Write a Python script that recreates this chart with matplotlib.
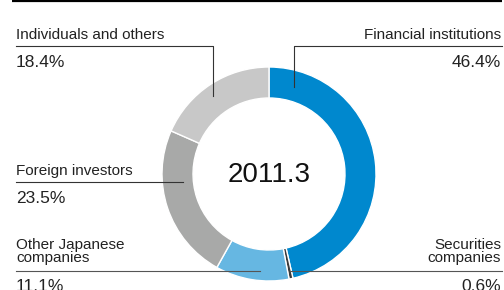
import matplotlib.pyplot as plt

# Shareholder composition, clockwise from 12 o'clock
labels = ['Financial institutions', 'Securities\ncompanies', 'Other Japanese\ncompanies',
          'Foreign investors', 'Individuals and others']
shares = [46.4, 0.6, 11.1, 23.5, 18.4]
colors = ['#0088ce', '#3a3a3a', '#66b7e2', '#a8a9a8', '#c8c8c8']
year_label = '2011.3'

W, H = 504, 290
plt.rcParams['font.family'] = ['Liberation Sans', 'DejaVu Sans']

fig = plt.figure(figsize=(W / 100, H / 100), dpi=100)
ax = fig.add_axes([0, 0, 1, 1])


def Y(y):
    # pixel row (from top) -> data y
    return H - y


cx, cy, r = 269, 174, 107
ax.pie(shares, colors=colors, startangle=90, counterclock=False,
       radius=r, center=(cx, Y(cy)), frame=True,
       wedgeprops=dict(width=31, edgecolor='white', linewidth=1.0))

ax.set_xlim(0, W)
ax.set_ylim(0, H)
ax.set_aspect('auto')
ax.axis('off')

txt = '#222222'
fs = 11          # category labels
pfs = 12.5       # percentages
line_c = '#333333'
lw = 0.8

# top rule
ax.plot([12, 502], [Y(0.5), Y(0.5)], color='black', lw=1.6, solid_capstyle='butt')

# Individuals and others (top left)
ax.text(16, Y(39), labels[4], ha='left', va='baseline', fontsize=fs, color=txt)
ax.text(16, Y(67), f'{shares[4]}%', ha='left', va='baseline', fontsize=pfs, color=txt)
ax.plot([16, 213, 213], [Y(46), Y(46), Y(96)], color=line_c, lw=lw)

# Financial institutions (top right)
ax.text(501, Y(39), labels[0], ha='right', va='baseline', fontsize=fs, color=txt)
ax.text(501, Y(67), f'{shares[0]}%', ha='right', va='baseline', fontsize=pfs, color=txt)
ax.plot([502, 294, 294], [Y(46), Y(46), Y(87)], color=line_c, lw=lw)

# Foreign investors (left)
ax.text(16, Y(175), labels[3], ha='left', va='baseline', fontsize=fs, color=txt)
ax.text(16, Y(203), f'{shares[3]}%', ha='left', va='baseline', fontsize=pfs, color=txt)
ax.plot([16, 183], [Y(182), Y(182)], color=line_c, lw=lw)

# Other Japanese companies (bottom left)
ax.text(16, Y(262), labels[2], ha='left', va='baseline', fontsize=fs, color=txt,
        linespacing=0.95)
ax.text(16, Y(291), f'{shares[2]}%', ha='left', va='baseline', fontsize=pfs, color=txt)
ax.plot([16, 260], [Y(271), Y(271)], color='#555555', lw=lw)

# Securities companies (bottom right)
ax.text(501, Y(262), labels[1], ha='right', va='baseline', fontsize=fs, color=txt,
        linespacing=0.95)
ax.text(501, Y(291), f'{shares[1]}%', ha='right', va='baseline', fontsize=pfs, color=txt)
ax.plot([290, 502], [Y(271), Y(271)], color='#555555', lw=lw)

# centre label
ax.text(cx, Y(175), year_label, ha='center', va='center', fontsize=20, color='#111111')

fig.savefig('out.png', dpi=100)
